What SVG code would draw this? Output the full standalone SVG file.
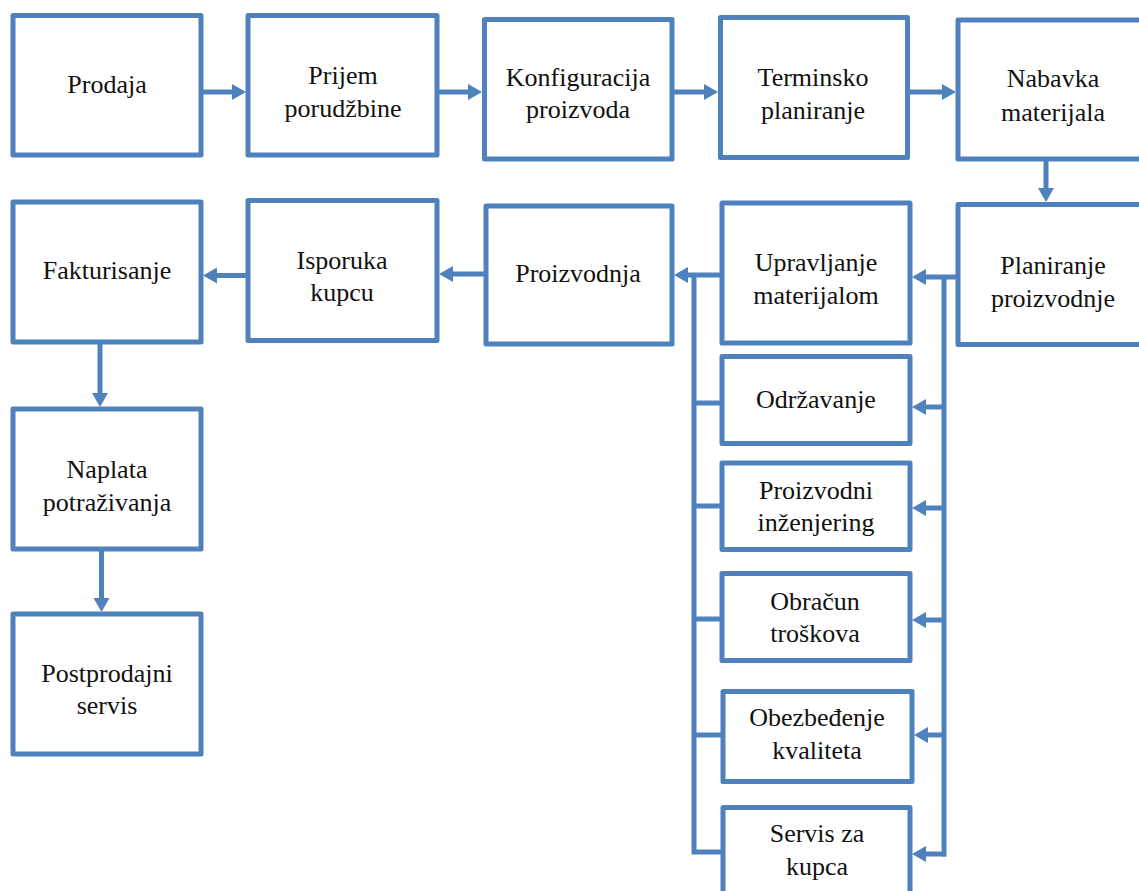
<svg xmlns="http://www.w3.org/2000/svg" width="1139" height="891" viewBox="0 0 1139 891">
  <style>
    .box { fill: #ffffff; stroke: #4f81bd; stroke-width: 5; stroke-linejoin: round; }
    .lbl { font-family: "Liberation Serif", "Times New Roman", serif; font-size: 26px; fill: #111111; text-anchor: middle; }
    .wire { fill: none; stroke: #4f81bd; stroke-width: 5; }
    .arr { marker-end: url(#head); }
  </style>
  <defs>
    <marker id="head" markerUnits="userSpaceOnUse" markerWidth="15" markerHeight="17" refX="0" refY="8" orient="auto" viewBox="0 0 15 16">
      <path d="M0,0 L14,8 L0,16 Z" fill="#4f81bd"/>
    </marker>
  </defs>

  <rect width="1139" height="891" fill="#ffffff"/>

  <!-- connectors -->
  <g id="connectors">
    <line class="wire arr" x1="201" y1="92" x2="232" y2="92"/>
    <line class="wire arr" x1="437" y1="92" x2="468" y2="92"/>
    <line class="wire arr" x1="672" y1="92" x2="704" y2="92"/>
    <line class="wire arr" x1="907" y1="92" x2="942" y2="92"/>
    <line class="wire arr" x1="1046" y1="159" x2="1046" y2="188"/>
    <line class="wire arr" x1="958" y1="277" x2="926" y2="277"/>
    <line class="wire arr" x1="722" y1="275" x2="688" y2="275"/>
    <line class="wire arr" x1="486" y1="274" x2="453" y2="274"/>
    <line class="wire arr" x1="248" y1="275.5" x2="217" y2="275.5"/>
    <line class="wire arr" x1="100" y1="342" x2="100" y2="393"/>
    <line class="wire arr" x1="101.5" y1="549" x2="101.5" y2="598"/>
    <!-- left collector bus -->
    <path class="wire" d="M694,275 V852 H723 M694,403 H722 M694,506 H722 M694,619 H722 M694,735 H723"/>
    <!-- right distribution bus -->
    <path class="wire" d="M944,277 V856.5"/>
    <line class="wire arr" x1="946" y1="407" x2="926" y2="407"/>
    <line class="wire arr" x1="946" y1="508" x2="926" y2="508"/>
    <line class="wire arr" x1="946" y1="620" x2="926" y2="620"/>
    <line class="wire arr" x1="946" y1="735" x2="928" y2="735"/>
    <line class="wire arr" x1="946" y1="854" x2="926" y2="854"/>
  </g>

  <g id="prodaja">
    <rect class="box" x="13" y="15.5" width="188" height="139.5"/>
    <text class="lbl" x="107" y="93">Prodaja</text>
  </g>
  <g id="prijem-porudzbine">
    <rect class="box" x="248" y="15.5" width="189" height="139.5"/>
    <text class="lbl" x="343" y="84">Prijem</text>
    <text class="lbl" x="343" y="117">porudžbine</text>
  </g>
  <g id="konfiguracija-proizvoda">
    <rect class="box" x="484.5" y="19.5" width="187.5" height="139.5"/>
    <text class="lbl" x="578" y="86">Konfiguracija</text>
    <text class="lbl" x="578" y="118">proizvoda</text>
  </g>
  <g id="terminsko-planiranje">
    <rect class="box" x="720.5" y="17.5" width="187" height="140"/>
    <text class="lbl" x="813" y="86">Terminsko</text>
    <text class="lbl" x="813" y="119">planiranje</text>
  </g>
  <g id="nabavka-materijala">
    <rect class="box" x="958" y="20" width="200" height="139"/>
    <text class="lbl" x="1053" y="87">Nabavka</text>
    <text class="lbl" x="1053" y="121">materijala</text>
  </g>

  <g id="fakturisanje">
    <rect class="box" x="13" y="202" width="188" height="140"/>
    <text class="lbl" x="107" y="279">Fakturisanje</text>
  </g>
  <g id="isporuka-kupcu">
    <rect class="box" x="248" y="200.5" width="189" height="140"/>
    <text class="lbl" x="342" y="269">Isporuka</text>
    <text class="lbl" x="342" y="301">kupcu</text>
  </g>
  <g id="proizvodnja">
    <rect class="box" x="486" y="206" width="186" height="138"/>
    <text class="lbl" x="578" y="282">Proizvodnja</text>
  </g>
  <g id="upravljanje-materijalom">
    <rect class="box" x="722" y="203" width="188" height="140"/>
    <text class="lbl" x="816" y="271">Upravljanje</text>
    <text class="lbl" x="816" y="304">materijalom</text>
  </g>
  <g id="planiranje-proizvodnje">
    <rect class="box" x="958" y="204.5" width="200" height="140"/>
    <text class="lbl" x="1053" y="274">Planiranje</text>
    <text class="lbl" x="1053" y="307">proizvodnje</text>
  </g>

  <g id="odrzavanje">
    <rect class="box" x="722" y="356.5" width="188" height="87"/>
    <text class="lbl" x="816" y="408">Održavanje</text>
  </g>
  <g id="proizvodni-inzenjering">
    <rect class="box" x="722" y="463" width="188" height="86.5"/>
    <text class="lbl" x="816" y="499">Proizvodni</text>
    <text class="lbl" x="816" y="531">inženjering</text>
  </g>
  <g id="obracun-troskova">
    <rect class="box" x="722" y="573.5" width="188" height="87"/>
    <text class="lbl" x="815" y="610">Obračun</text>
    <text class="lbl" x="815" y="642">troškova</text>
  </g>
  <g id="obezbedjenje-kvaliteta">
    <rect class="box" x="723" y="691.5" width="189" height="90"/>
    <text class="lbl" x="817" y="726">Obezbeđenje</text>
    <text class="lbl" x="817" y="759">kvaliteta</text>
  </g>
  <g id="servis-za-kupca">
    <rect class="box" x="723" y="807.5" width="187" height="100"/>
    <text class="lbl" x="817" y="842">Servis za</text>
    <text class="lbl" x="817" y="875">kupca</text>
  </g>

  <g id="naplata-potrazivanja">
    <rect class="box" x="13" y="409" width="188" height="140"/>
    <text class="lbl" x="107" y="478">Naplata</text>
    <text class="lbl" x="107" y="511">potraživanja</text>
  </g>
  <g id="postprodajni-servis">
    <rect class="box" x="13" y="614" width="188" height="140"/>
    <text class="lbl" x="107" y="682">Postprodajni</text>
    <text class="lbl" x="107" y="714">servis</text>
  </g>
</svg>
